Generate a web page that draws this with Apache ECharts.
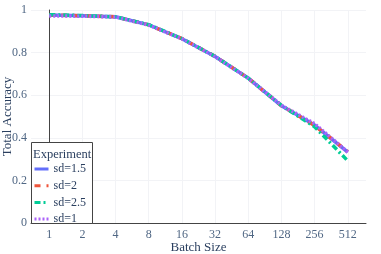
<!DOCTYPE html>
<html><head><meta charset="utf-8">
<script src="https://cdn.jsdelivr.net/npm/echarts@6/dist/echarts.min.js"></script>
<style>html,body{margin:0;padding:0;background:#fff}#c{width:381px;height:254px}</style>
</head><body><div id="c"></div>
<script>
const batchLabels = ['1','2','4','8','16','32','64','128','256','512'];
const sd15 = [0.977, 0.973, 0.968, 0.930, 0.865, 0.782, 0.680, 0.550, 0.460, 0.333];
const sd2  = [0.976, 0.973, 0.968, 0.930, 0.866, 0.782, 0.680, 0.551, 0.458, 0.335];
const sd25 = [0.978, 0.974, 0.968, 0.931, 0.866, 0.782, 0.680, 0.552, 0.452, 0.292];
const sd1  = [0.972, 0.971, 0.967, 0.929, 0.865, 0.781, 0.679, 0.553, 0.466, 0.333];
const yTicks = [0, 0.2, 0.4, 0.6, 0.8, 1];

const font = 'Liberation Serif';
const txt = '#506784';
function pts(arr){ return arr.map((v,i)=>[i,v]); }
const chart = echarts.init(document.getElementById('c'), null, {renderer:'canvas'});
const series = [
  {name:'sd=1.5', data:pts(sd15), color:'#636efa', type:'solid'},
  {name:'sd=2', data:pts(sd2), color:'#EF553B', type:[6,6]},
  {name:'sd=2.5', data:pts(sd25), color:'#00cc96', type:[6,3,2,3]},
  {name:'sd=1', data:pts(sd1), color:'#ab63fa', type:[2,2]}
].map(s=>({
  name:s.name, type:'line', data:s.data, symbol:'none', smooth:false,
  color:s.color, lineStyle:{width:3.5, color:s.color, type:s.type}
}));
chart.setOption({
  animation:false,
  textStyle:{fontFamily:font},
  grid:{left:31, right:15, top:10, bottom:31, containLabel:false, outerBoundsMode:'none'},
  xAxis:{
    type:'value', min:-0.55, max:9.55,
    name:'Batch Size', nameLocation:'middle', nameGap:25, nameMoveOverlap:false,
    nameTextStyle:{fontFamily:font, fontSize:13, color:'#2a3f5f', verticalAlign:'middle'},
    axisLine:{show:true, onZero:false, lineStyle:{color:'#444', width:1}},
    axisTick:{show:false, customValues:[0,1,2,3,4,5,6,7,8,9]},
    axisLabel:{customValues:[0,1,2,3,4,5,6,7,8,9], formatter:v=>batchLabels[Math.round(v)], fontFamily:font, fontSize:12, color:txt, margin:6, showMinLabel:true, showMaxLabel:true},
    splitLine:{show:true, lineStyle:{color:'#f2f3f6', width:1}}
  },
  yAxis:{
    type:'value', min:0, max:1, interval:0.2,
    name:'Total Accuracy', nameLocation:'middle', nameGap:23, nameMoveOverlap:false,
    nameTextStyle:{fontFamily:font, fontSize:13, color:'#2a3f5f', verticalAlign:'middle'},
    axisLine:{show:true, lineStyle:{color:'#444', width:1}},
    axisTick:{show:false},
    axisLabel:{formatter:v=>String(Math.round(v*10)/10), fontFamily:font, fontSize:12, color:txt, margin:4},
    splitLine:{show:true, lineStyle:{color:'#f2f3f6', width:1}}
  },
  legend:{
    orient:'vertical', left:33, top:163, itemWidth:14, itemHeight:10, itemGap:4.7,
    padding:0, z:200,
    itemStyle:{opacity:0},
    lineStyle:{width:3},
    textStyle:{fontFamily:font, fontSize:12, color:'#2a3f5f'},
    data:['sd=1.5','sd=2','sd=2.5','sd=1']
  },
  graphic:[
    {type:'rect', left:31, top:142, z:100, shape:{width:61, height:81}, style:{fill:'#fff', stroke:'#444', lineWidth:1}, silent:true},
    {type:'text', left:33, top:148, z:101, style:{text:'Experiment', font:'12.5px "Liberation Serif"', fill:'#2a3f5f'}}
  ],
  series:series
});
</script></body></html>
